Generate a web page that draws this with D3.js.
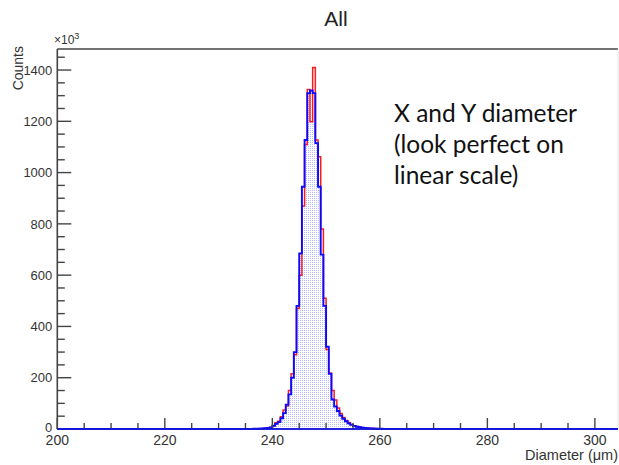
<!DOCTYPE html>
<html>
<head>
<meta charset="utf-8">
<script src="https://cdn.jsdelivr.net/npm/d3@7"></script>
<style>
  html, body { margin: 0; padding: 0; background: #fff; }
  svg { display: block; }
</style>
</head>
<body>
<svg id="chart" width="619" height="465"></svg>
<script>
// ---- data (counts in thousands, 0.5 µm bins; left edges) ----
const binLeft = [236, 236.5, 237, 237.5, 238, 238.5, 239, 239.5, 240, 240.5, 241, 241.5,
  242, 242.5, 243, 243.5, 244, 244.5, 245, 245.5, 246, 246.5, 247, 247.5, 248, 248.5,
  249, 249.5, 250, 250.5, 251, 251.5, 252, 252.5, 253, 253.5, 254, 254.5, 255, 255.5,
  256, 256.5, 257, 257.5, 258, 258.5, 259, 259.5, 260, 260.5, 261, 261.5];
const binWidth = 0.5;
const blueCounts = [0.5, 1, 1, 1.5, 2, 3, 4, 6, 12, 20, 27, 42,
  62, 95, 135, 200, 300, 480, 685, 945, 1127, 1310, 1320, 1310, 1115, 945,
  680, 480, 321, 215, 115, 88, 70, 52, 40, 30, 22, 16, 12, 9,
  7, 5, 4, 3, 2.5, 2, 1.5, 1, 1, 0.5, 0.5, 0.3];
const redCounts = [0.5, 1, 1, 1.5, 2, 3, 4, 6, 14, 24, 30, 48,
  74, 90, 150, 215, 290, 470, 600, 870, 1110, 1324, 1198, 1410, 1127, 1062,
  780, 510, 310, 218, 150, 113, 82, 60, 45, 33, 25, 18, 13, 10,
  8, 6, 4, 3, 2.5, 2, 1.5, 1, 1, 0.5, 0.5, 0.3];
const xTicks = [200, 220, 240, 260, 280, 300];
const yTicks = [0, 200, 400, 600, 800, 1000, 1200, 1400];
const xDomain = [200, 304.3];
const yDomain = [0, 1482];
const titleText = "All";
const xTitle = "Diameter (\u03BCm)";
const yTitle = "Counts";
const noteLines = ["X and Y diameter", "(look perfect on", "linear scale)"];

(function () {
// ---- layout ----
const svg = d3.select("#chart");
const mLeft = 57.3, mRight = 618, mTop = 49, mBottom = 429;
const x = d3.scaleLinear().domain(xDomain).range([mLeft, mRight]);
const y = d3.scaleLinear().domain(yDomain).range([mBottom, mTop]);
const axisColor = "#444";
const font = "'Liberation Sans', Arial, sans-serif";

// pattern for fill
const defs = svg.append("defs");
const pat = defs.append("pattern").attr("id", "dots")
  .attr("patternUnits", "userSpaceOnUse").attr("width", 2).attr("height", 2);
pat.append("rect").attr("x", 0).attr("y", 0).attr("width", 1).attr("height", 1)
  .attr("fill", "#b4b8ff");

function histPath(vals) {
  const p = d3.path();
  p.moveTo(x(xDomain[0]), y(0));
  p.lineTo(x(binLeft[0]), y(0));
  binLeft.forEach((b, i) => {
    p.lineTo(x(b), y(vals[i]));
    p.lineTo(x(b + binWidth), y(vals[i]));
  });
  const last = binLeft[binLeft.length - 1] + binWidth;
  p.lineTo(x(last), y(0));
  p.lineTo(x(xDomain[1]), y(0));
  return p.toString();
}

// frame: top line and faint right line
svg.append("line").attr("x1", mLeft).attr("x2", mRight).attr("y1", mTop).attr("y2", mTop)
  .attr("stroke", axisColor).attr("stroke-width", 1.6);
svg.append("line").attr("x1", mRight).attr("x2", mRight).attr("y1", mTop).attr("y2", mBottom)
  .attr("stroke", "#e6e6e6").attr("stroke-width", 1);

// fill
svg.append("path").attr("d", histPath(blueCounts) + "Z")
  .attr("fill", "url(#dots)").attr("stroke", "none");
// red outline
svg.append("path").attr("d", histPath(redCounts))
  .attr("fill", "none").attr("stroke", "#ff1a1a").attr("stroke-width", 1.5);
// blue outline
svg.append("path").attr("d", histPath(blueCounts))
  .attr("fill", "none").attr("stroke", "#0a0aff").attr("stroke-width", 1.9);

// y axis
const gy = svg.append("g").attr("transform", `translate(${mLeft},0)`);
gy.append("line").attr("x1", 0).attr("x2", 0).attr("y1", mBottom).attr("y2", mTop)
  .attr("stroke", axisColor).attr("stroke-width", 1.6);
gy.selectAll("line.tick").data(d3.range(0, 1451, 50)).join("line").attr("class", "tick")
  .attr("x1", 0).attr("x2", d => (d % 200 === 0 ? 14 : 7.5))
  .attr("y1", d => y(d)).attr("y2", d => y(d))
  .attr("stroke", axisColor).attr("stroke-width", 1.4);
gy.selectAll("text").data(yTicks).join("text")
  .attr("x", -5).attr("y", d => y(d)).attr("dy", d => (d === 0 ? "0.2em" : "0.36em"))
  .attr("text-anchor", "end").attr("font-family", font)
  .attr("font-size", 13).attr("fill", "#333").text(d => d);

// x axis
const gx = svg.append("g");
gx.append("line").attr("x1", mLeft).attr("x2", mRight).attr("y1", mBottom).attr("y2", mBottom)
  .attr("stroke", axisColor).attr("stroke-width", 1.4);
gx.selectAll("line.tick").data(d3.range(200, 305, 5)).join("line").attr("class", "tick")
  .attr("x1", d => x(d)).attr("x2", d => x(d))
  .attr("y1", mBottom).attr("y2", d => (d % 20 === 0 ? mBottom - 11 : mBottom - 6))
  .attr("stroke", axisColor).attr("stroke-width", 1.4);
gx.selectAll("text").data(xTicks).join("text")
  .attr("x", d => x(d)).attr("y", mBottom + 16)
  .attr("text-anchor", "middle").attr("font-family", font)
  .attr("font-size", 14).attr("fill", "#333").text(d => d);

// blue baseline over axis
svg.append("line").attr("x1", mLeft).attr("x2", mRight).attr("y1", y(0)).attr("y2", y(0))
  .attr("stroke", "#0a0aff").attr("stroke-width", 1.6);

// axis titles
svg.append("text").attr("x", mRight).attr("y", 460).attr("text-anchor", "end")
  .attr("font-family", font).attr("font-size", 14.5)
  .attr("fill", "#333").text(xTitle);
svg.append("text").attr("transform", "translate(23,46) rotate(-90)")
  .attr("text-anchor", "end")
  .attr("font-family", font).attr("font-size", 14)
  .attr("fill", "#333").text(yTitle);
const mult = svg.append("text").attr("x", 54).attr("y", 44)
  .attr("font-family", font).attr("font-size", 12)
  .attr("fill", "#333");
mult.append("tspan").text("\u00D710");
mult.append("tspan").attr("dy", -5).attr("font-size", 9).text("3");

// title
svg.append("text").attr("x", 336).attr("y", 26).attr("text-anchor", "middle")
  .attr("font-family", font).attr("font-size", 21)
  .attr("fill", "#222").text(titleText);

// annotation
svg.append("g").selectAll("text").data(noteLines).join("text")
  .attr("x", 394).attr("y", (d, i) => 122 + i * 31)
  .attr("font-family", "Lato, 'Open Sans', sans-serif").attr("font-size", 24.5)
  .attr("fill", "#111").text(d => d);
})();
</script>
</body>
</html>
